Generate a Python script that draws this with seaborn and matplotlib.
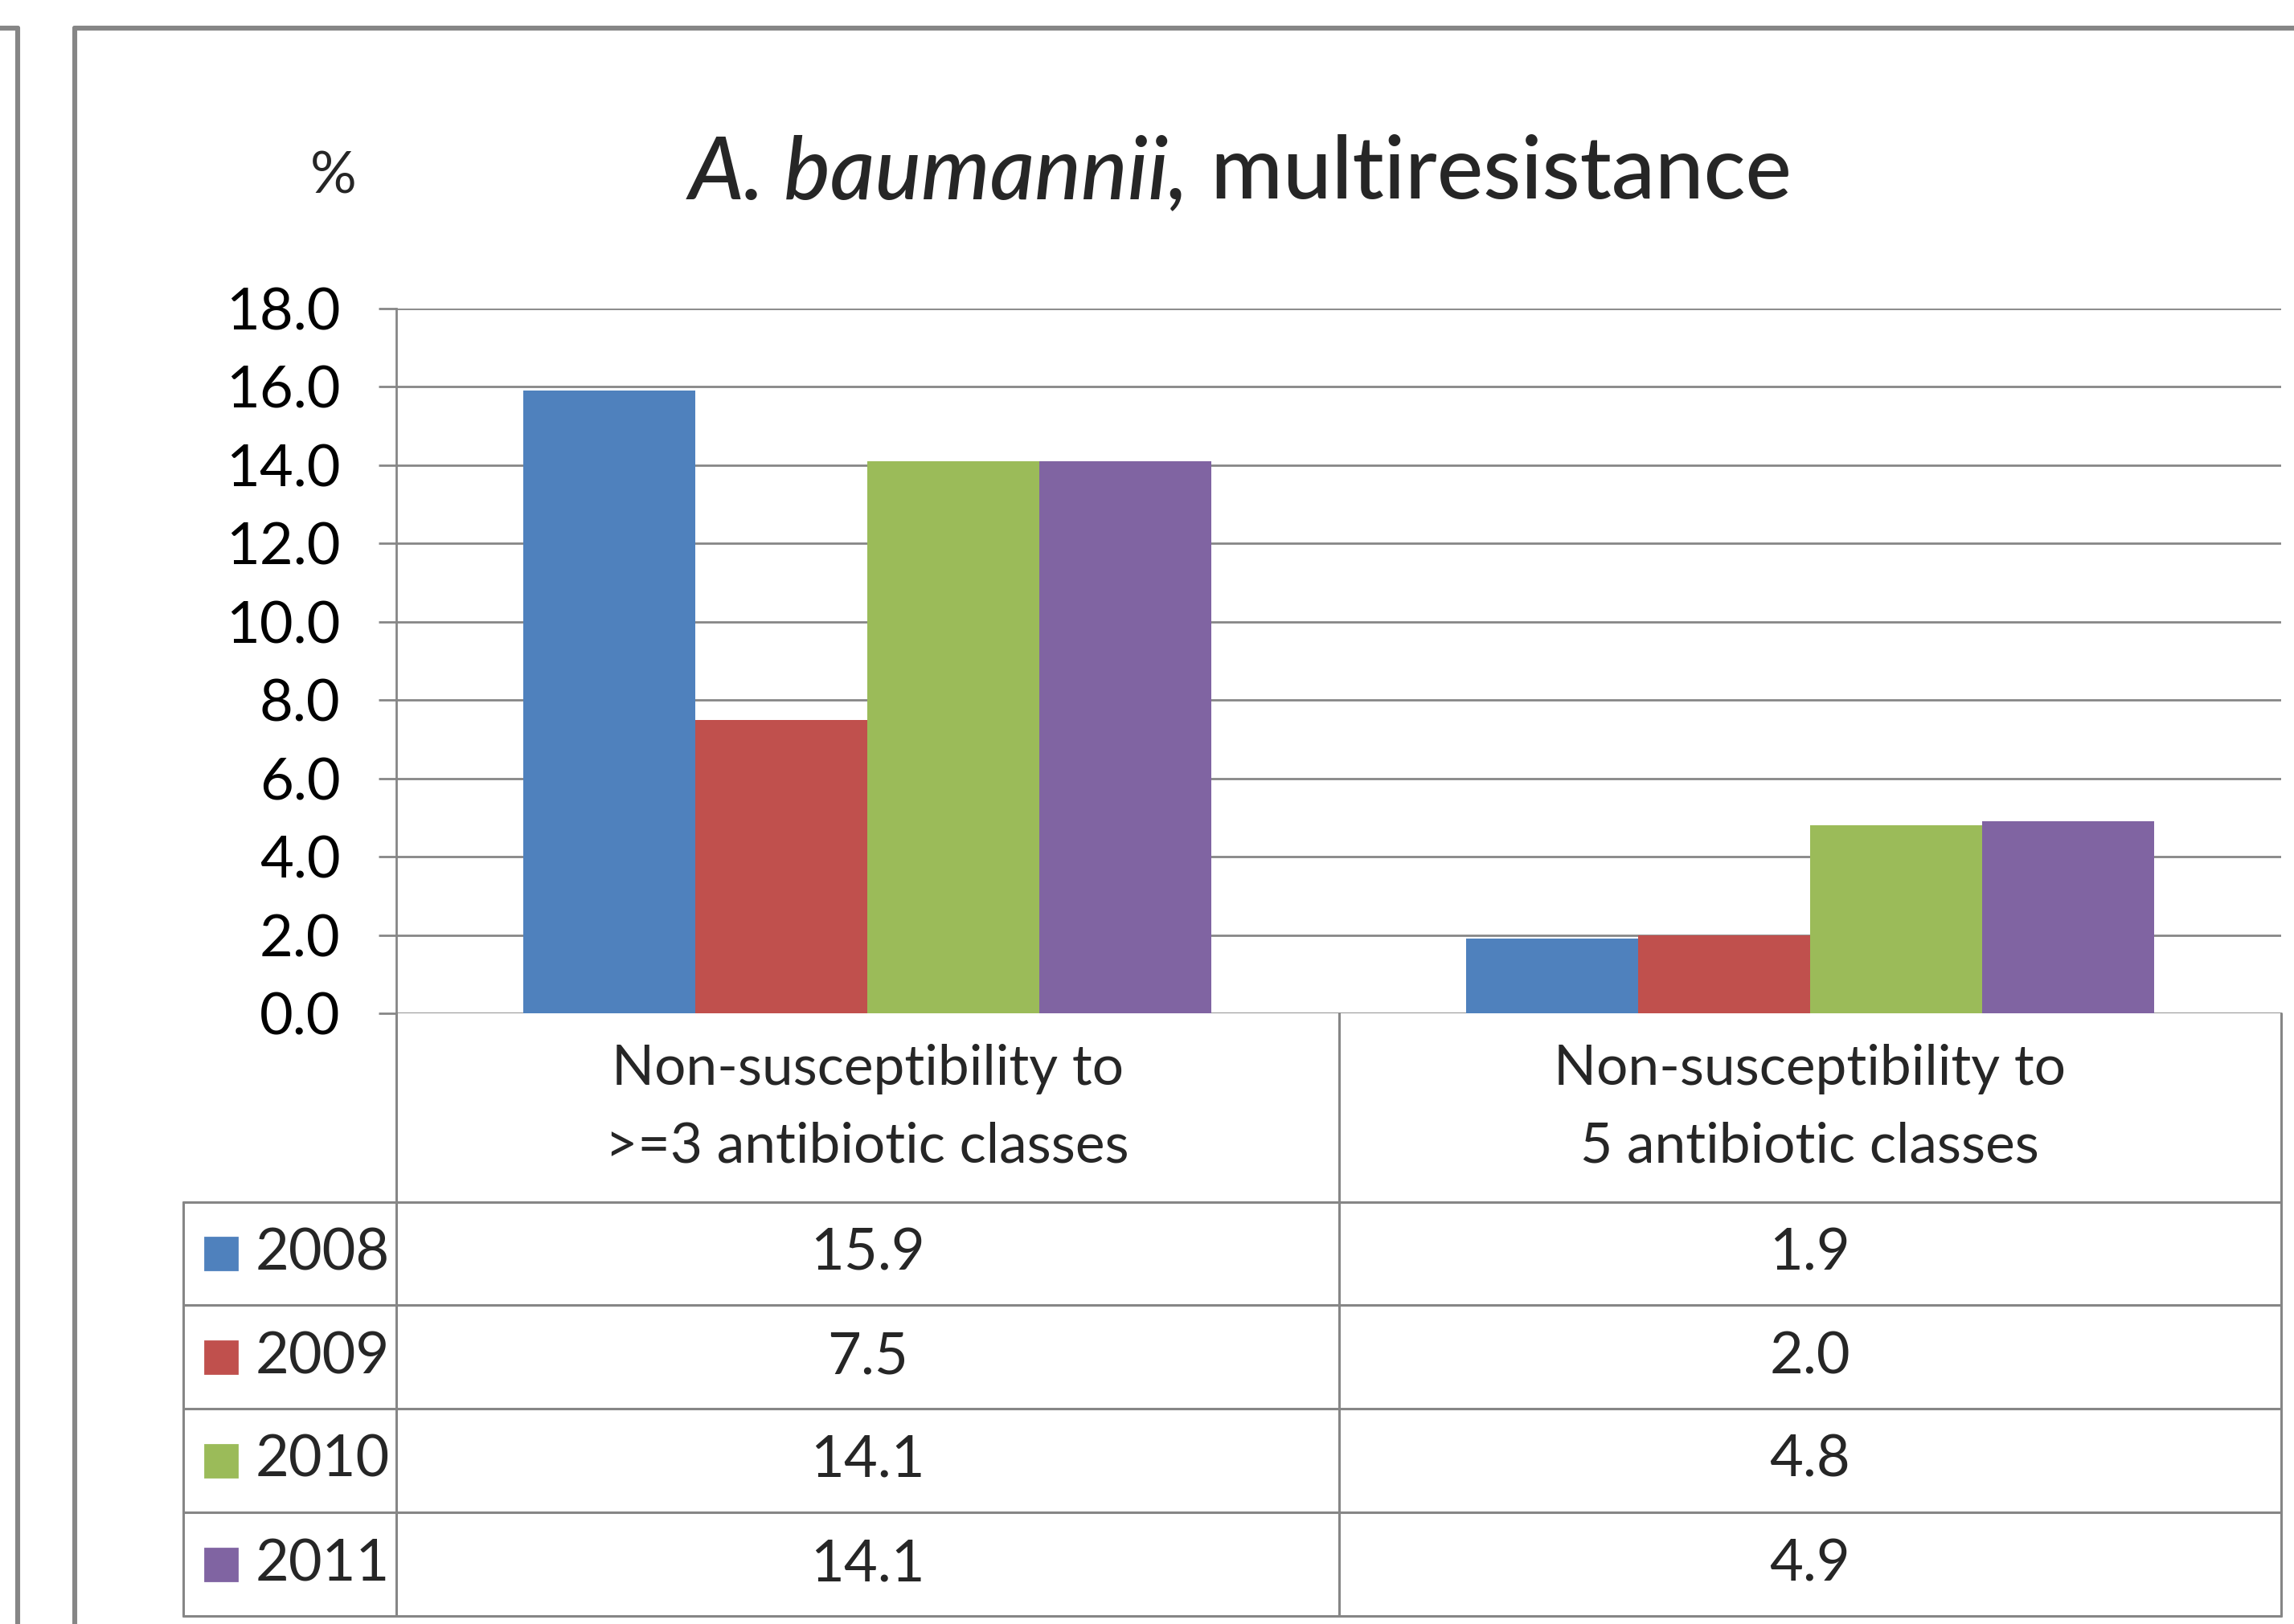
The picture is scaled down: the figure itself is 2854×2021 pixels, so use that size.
import numpy as np
import pandas as pd
import seaborn as sns
import matplotlib.pyplot as plt
from matplotlib import font_manager
from matplotlib.lines import Line2D
from matplotlib.patches import Rectangle

# data
categories = ["Non-susceptibility to\n>=3 antibiotic classes",
              "Non-susceptibility to\n5 antibiotic classes"]
years = ["2008", "2009", "2010", "2011"]
vals_2008 = [15.9, 1.9]
vals_2009 = [7.5, 2.0]
vals_2010 = [14.1, 4.8]
vals_2011 = [14.1, 4.9]
colors = ["#4F81BD", "#C0504D", "#9BBB59", "#8064A2"]
yticks = [0, 2, 4, 6, 8, 10, 12, 14, 16, 18]

series = [vals_2008, vals_2009, vals_2010, vals_2011]
df = pd.DataFrame({
    "category": categories * len(years),
    "year": np.repeat(years, len(categories)),
    "value": sum(series, []),
})

sns.set_theme(style="white")
names = {f.name for f in font_manager.fontManager.ttflist}
font = "Liberation Sans Narrow" if "Liberation Sans Narrow" in names else "Lato"
plt.rcParams["font.family"] = [font, "DejaVu Sans"]

GRAY = "#868686"
W, H = 2854, 2021
fig = plt.figure(figsize=(W / 200, H / 200), dpi=200, facecolor="white")

# plot area in pixels of the reference
x0, x1, y_top, y_bot = 493, 2838, 384, 1261
ax = fig.add_axes([x0 / W, 1 - y_bot / H, (x1 - x0) / W, (y_bot - y_top) / H])

sns.barplot(data=df, x="category", y="value", hue="year", palette=colors,
            width=0.73, saturation=1, legend=False, edgecolor="none", ax=ax)

ax.set_xlim(-0.5, 1.5)
ax.set_ylim(0, 18)
ax.set_yticks(yticks)
ax.set_yticklabels([f"{v:.1f}" for v in yticks])
ax.yaxis.grid(True, color=GRAY, lw=1.0)
ax.set_axisbelow(True)
ax.set_xticks([])
ax.set_xlabel("")
ax.set_ylabel("")
for s in ["top", "right", "bottom"]:
    ax.spines[s].set_visible(False)
ax.spines["left"].set_color(GRAY)
ax.spines["left"].set_linewidth(1.0)
ax.tick_params(axis="y", left=True, length=8, width=1.0, color=GRAY,
               pad=17, labelsize=26, labelcolor="black")

# data table under the chart
px = (y_bot - y_top)  # pixels per axes unit
def ay(yp):
    return (y_bot - yp) / px

row_edges = [1496, 1624, 1753, 1882, 2011]
left_data = -0.5 - (x0 - 228) / (x1 - x0) * 2
trans = ax.get_xaxis_transform()
lkw = dict(color=GRAY, lw=1.1, transform=trans, clip_on=False)

for yp in row_edges:
    ax.add_line(Line2D([left_data, 1.5], [ay(yp), ay(yp)], **lkw))
ax.add_line(Line2D([left_data, left_data], [ay(row_edges[0]), ay(row_edges[-1])], **lkw))
for xv in [-0.5, 0.5, 1.5]:
    ax.add_line(Line2D([xv, xv], [0, ay(row_edges[-1])], **lkw))

# header: category names
for i, cat in enumerate(categories):
    ax.text(i, ay((y_bot + row_edges[0]) / 2), cat, transform=trans,
            ha="center", va="center", fontsize=25, linespacing=1.65)

# rows: legend key, year, values
for r, (yr, vals, col) in enumerate(zip(years, series, colors)):
    yc = (row_edges[r] + row_edges[r + 1]) / 2
    fig.patches.append(Rectangle((255 / W, 1 - (yc + 20) / H), 40 / W, 40 / H,
                                 transform=fig.transFigure, color=col))
    fig.text(318 / W, 1 - yc / H, yr, ha="left", va="center", fontsize=26)
    for i, v in enumerate(vals):
        ax.text(i, ay(yc), f"{v:.1f}", transform=trans,
                ha="center", va="center", fontsize=26)

# "%" unit label
fig.text(415 / W, 1 - 220 / H, "%", ha="center", va="center", fontsize=26)

# title: italic species + regular text, centred
renderer = fig.canvas.get_renderer()
t1 = fig.text(0, 1 - 247 / H, "A. baumannii,", style="italic",
              ha="left", va="baseline", fontsize=39, weight="medium")
t2 = fig.text(0, 1 - 247 / H, " multiresistance", ha="left", va="baseline",
              fontsize=39, weight="medium")
w1 = t1.get_window_extent(renderer).width
w2 = t2.get_window_extent(renderer).width
start = 1543 - (w1 + w2) / 2
t1.set_x(start / W)
t2.set_x((start + w1) / W)

# panel frames
fkw = dict(color=GRAY, lw=2.2, transform=fig.transFigure)
fig.add_artist(Line2D([93 / W, 1], [1 - 35 / H, 1 - 35 / H], **fkw))
fig.add_artist(Line2D([93 / W, 93 / W], [0, 1 - 35 / H], **fkw))
fig.add_artist(Line2D([0, 22 / W], [1 - 35 / H, 1 - 35 / H], **fkw))
fig.add_artist(Line2D([22 / W, 22 / W], [0, 1 - 35 / H], **fkw))

fig.savefig("out.png", dpi=200, facecolor="white")
